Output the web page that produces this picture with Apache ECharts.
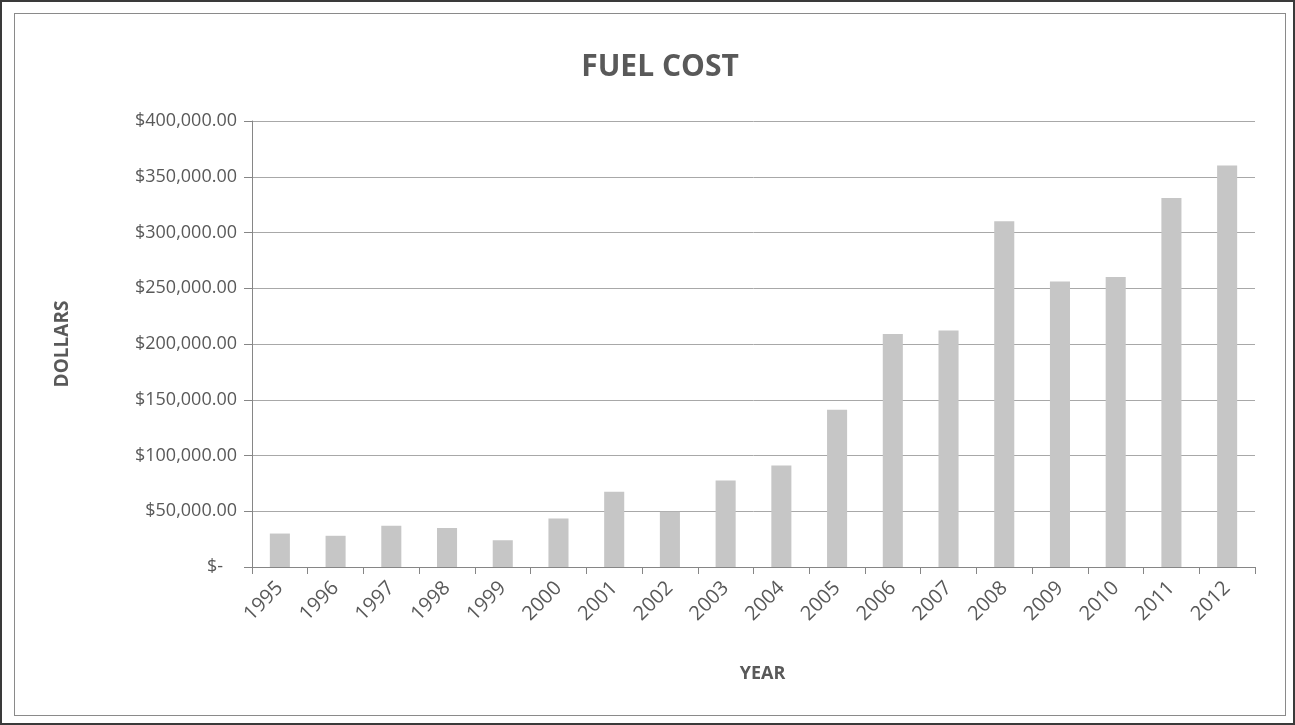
<!DOCTYPE html>
<html>
<head>
<meta charset="utf-8">
<script src="https://cdn.jsdelivr.net/npm/echarts@6/dist/echarts.min.js"></script>
<style>
  html, body { margin: 0; padding: 0; background: #fff; }
  #outer { position: absolute; left: 0; top: 0; width: 1291px; height: 721px; border: 2px solid #3a3a3a; }
  #inner { position: absolute; left: 14px; top: 13px; width: 1270px; height: 701px; border: 1px solid #8a8a8a; }
  #chart { position: absolute; left: 0; top: 0; width: 1295px; height: 725px; }
</style>
</head>
<body>
<div id="outer"></div>
<div id="inner"></div>
<div id="chart"></div>
<script>
// fuel cost per year
const years = ["1995", "1996", "1997", "1998", "1999", "2000", "2001", "2002", "2003",
  "2004", "2005", "2006", "2007", "2008", "2009", "2010", "2011", "2012"];
const fuelCost = [30000, 28000, 37000, 35000, 24000, 43500, 67500, 49500, 77500,
  91000, 141000, 209000, 212000, 310000, 256000, 260000, 331000, 360000];
const yTicks = [0, 50000, 100000, 150000, 200000, 250000, 300000, 350000, 400000];

const textColor = "#595959";
const font = "'Open Sans', 'Noto Sans', sans-serif";

// accounting style: $- for zero
function dollars(v) {
  if (v === 0) return "$-   ";
  const s = String(v).replace(/\B(?=(\d{3})+(?!\d))/g, ",");
  return "$" + s + ".00";
}

const chart = echarts.init(document.getElementById("chart"), null, { renderer: "canvas" });

chart.setOption({
  animation: false,
  title: {
    text: "FUEL COST",
    left: 655,
    top: 47,
    textAlign: "center",
    textStyle: { fontFamily: font, fontWeight: "bold", fontSize: 30, color: textColor },
  },
  grid: { left: 252, right: 40, top: 121, bottom: 158 },
  xAxis: {
    type: "category",
    data: years,
    name: "YEAR",
    nameLocation: "middle",
    nameGap: 98,
    nameTextStyle: { fontFamily: font, fontWeight: "bold", fontSize: 18, color: textColor, padding: [0, 0, 0, 18] },
    axisLine: { lineStyle: { color: "#868686" } },
    axisTick: { show: true, length: 7, lineStyle: { color: "#868686" } },
    axisLabel: {
      rotate: 45,
      margin: 18,
      fontFamily: font,
      fontSize: 20,
      color: textColor,
    },
  },
  yAxis: {
    type: "value",
    min: yTicks[0],
    max: yTicks[yTicks.length - 1],
    interval: yTicks[1] - yTicks[0],
    name: "DOLLARS",
    nameLocation: "middle",
    nameGap: 180,
    nameTextStyle: { fontFamily: font, fontWeight: "bold", fontSize: 19, color: textColor },
    axisLine: { show: true, lineStyle: { color: "#868686" } },
    axisTick: { show: true, length: 8, lineStyle: { color: "#868686" } },
    splitLine: { lineStyle: { color: "#a8a8a8", width: 1 } },
    axisLabel: {
      margin: 15,
      fontFamily: font,
      fontSize: 18,
      color: textColor,
      formatter: dollars,
    },
  },
  series: [
    {
      name: "Fuel cost",
      type: "bar",
      data: fuelCost,
      barWidth: "36%",
      itemStyle: { color: "#c6c6c6" },
    },
  ],
});
</script>
</body>
</html>
